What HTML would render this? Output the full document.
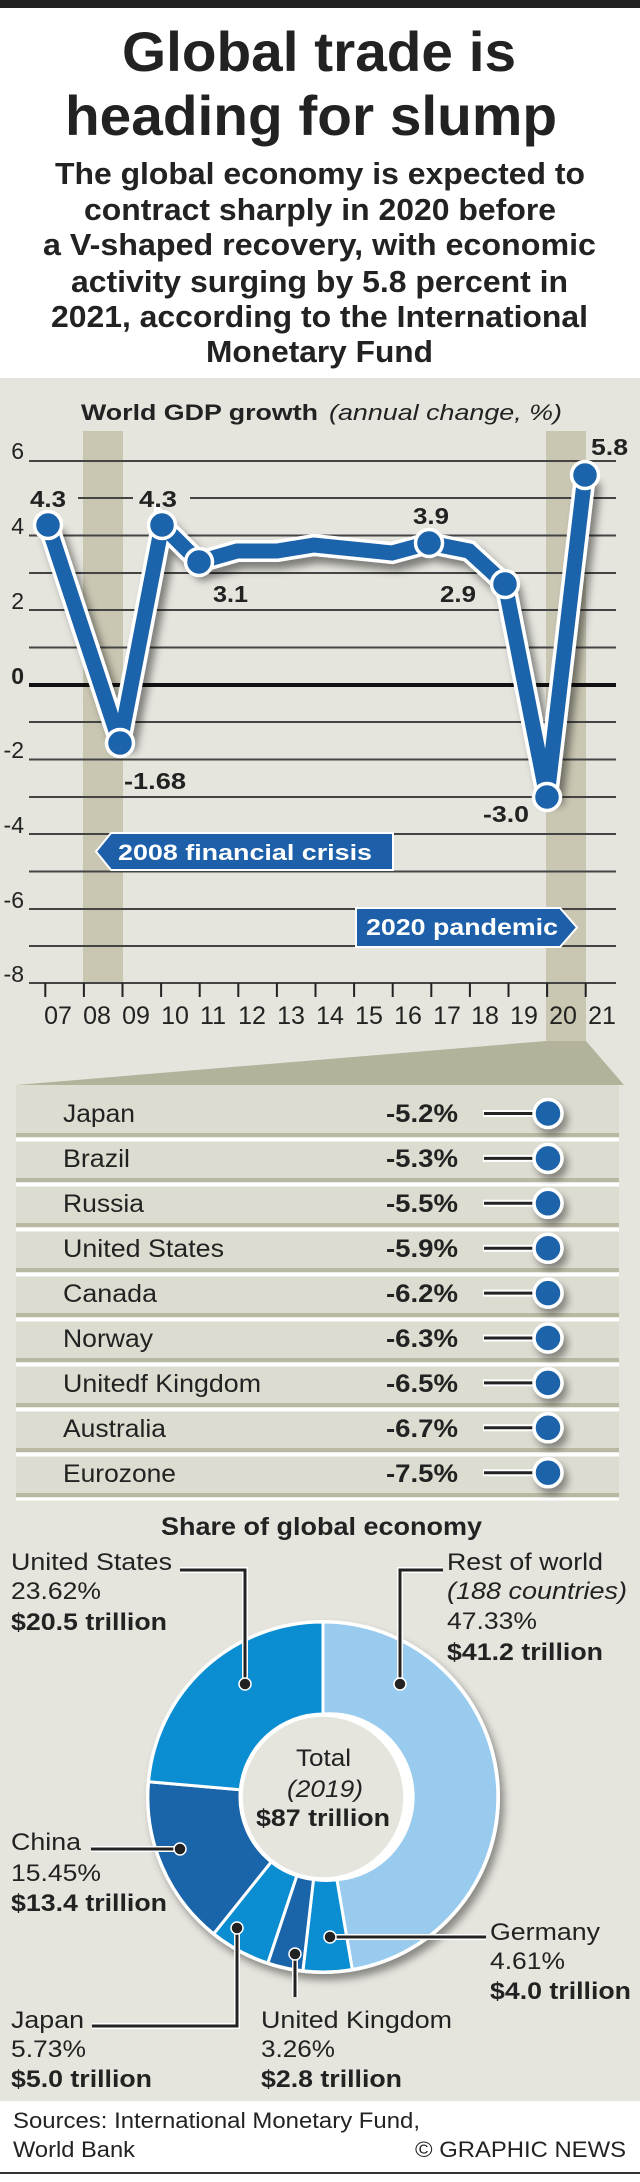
<!DOCTYPE html>
<html><head><meta charset="utf-8"><style>
html,body{margin:0;padding:0;background:#fff}
svg{display:block}
text{font-family:"Liberation Sans",Arial,sans-serif;fill:#222}
.b{font-weight:bold}
</style></head><body>
<svg width="640" height="2182" viewBox="0 0 640 2182" xmlns="http://www.w3.org/2000/svg">
<defs>
<filter id="sh" x="-20%" y="-20%" width="150%" height="150%">
<feDropShadow dx="5" dy="7" stdDeviation="4" flood-color="#000" flood-opacity="0.45"/>
</filter>
<filter id="sh2" x="-30%" y="-30%" width="170%" height="170%">
<feDropShadow dx="4" dy="6" stdDeviation="4" flood-color="#000" flood-opacity="0.4"/>
</filter>
</defs>
<rect x="0" y="0" width="640" height="2182" fill="#fff"/>
<rect x="0" y="0" width="640" height="8" fill="#222"/>
<!-- Title -->
<g class="b" text-anchor="start">
<text x="122" y="71" font-size="56" font-weight="bold" textLength="394" lengthAdjust="spacingAndGlyphs">Global trade is</text>
<text x="65" y="135" font-size="56" font-weight="bold" textLength="492" lengthAdjust="spacingAndGlyphs">heading for slump</text>
<text x="55" y="184" font-size="31" font-weight="bold" textLength="530" lengthAdjust="spacingAndGlyphs">The global economy is expected to</text>
<text x="84" y="220" font-size="31" font-weight="bold" textLength="472" lengthAdjust="spacingAndGlyphs">contract sharply in 2020 before</text>
<text x="43" y="255" font-size="31" font-weight="bold" textLength="553" lengthAdjust="spacingAndGlyphs">a V-shaped recovery, with economic</text>
<text x="71" y="292" font-size="31" font-weight="bold" textLength="497" lengthAdjust="spacingAndGlyphs">activity surging by 5.8 percent in</text>
<text x="51" y="327" font-size="31" font-weight="bold" textLength="537" lengthAdjust="spacingAndGlyphs">2021, according to the International</text>
<text x="206" y="362" font-size="31" font-weight="bold" textLength="227" lengthAdjust="spacingAndGlyphs">Monetary Fund</text>
</g>
<!-- Gray panel -->
<rect x="0" y="378" width="640" height="1723" fill="#e5e4dd"/>
<text x="81" y="420" font-size="22" font-weight="bold" textLength="237" lengthAdjust="spacingAndGlyphs">World GDP growth</text>
<text x="329" y="420" font-size="22" font-style="italic" textLength="233" lengthAdjust="spacingAndGlyphs">(annual change, %)</text>
<!-- bands -->
<rect x="83" y="431" width="40" height="552" fill="#c9c6b2"/>
<rect x="546" y="431" width="40" height="612" fill="#c9c6b2"/>
<!-- gridlines -->
<g stroke="#444" stroke-width="2">
<line x1="29" y1="461" x2="616" y2="461"/>
<line x1="29" y1="498" x2="616" y2="498"/>
<line x1="29" y1="535.5" x2="616" y2="535.5"/>
<line x1="29" y1="573" x2="616" y2="573"/>
<line x1="29" y1="610" x2="616" y2="610"/>
<line x1="29" y1="647.5" x2="616" y2="647.5"/>
<line x1="29" y1="722" x2="616" y2="722"/>
<line x1="29" y1="759.5" x2="616" y2="759.5"/>
<line x1="29" y1="797" x2="616" y2="797"/>
<line x1="29" y1="834" x2="616" y2="834"/>
<line x1="29" y1="871.5" x2="616" y2="871.5"/>
<line x1="29" y1="909" x2="616" y2="909"/>
<line x1="29" y1="946" x2="616" y2="946"/>
<line x1="29" y1="983" x2="616" y2="983"/>
</g>
<line x1="29" y1="685" x2="616" y2="685" stroke="#111" stroke-width="4"/>
<!-- gaps behind 4.3 labels -->
<rect x="29" y="490" width="49" height="16" fill="#e5e4dd"/>
<rect x="133" y="490" width="57" height="16" fill="#e5e4dd"/>
<!-- ticks -->
<g stroke="#222" stroke-width="2">
<line x1="45.3" y1="983" x2="45.3" y2="997"/><line x1="83.9" y1="983" x2="83.9" y2="997"/><line x1="122.5" y1="983" x2="122.5" y2="997"/><line x1="161.1" y1="983" x2="161.1" y2="997"/><line x1="199.7" y1="983" x2="199.7" y2="997"/><line x1="238.3" y1="983" x2="238.3" y2="997"/><line x1="276.9" y1="983" x2="276.9" y2="997"/><line x1="315.5" y1="983" x2="315.5" y2="997"/><line x1="354.1" y1="983" x2="354.1" y2="997"/><line x1="392.7" y1="983" x2="392.7" y2="997"/><line x1="431.3" y1="983" x2="431.3" y2="997"/><line x1="469.9" y1="983" x2="469.9" y2="997"/><line x1="508.5" y1="983" x2="508.5" y2="997"/><line x1="547.1" y1="983" x2="547.1" y2="997"/><line x1="585.7" y1="983" x2="585.7" y2="997"/>
</g>
<!-- y labels -->
<g font-size="23" text-anchor="end">
<text x="24" y="459">6</text><text x="24" y="534">4</text><text x="24" y="609">2</text>
<text x="24" y="684" font-weight="bold">0</text><text x="24" y="758">-2</text><text x="24" y="833">-4</text>
<text x="24" y="908">-6</text><text x="24" y="982">-8</text>
</g>
<!-- x labels -->
<g font-size="25" text-anchor="middle">
<text x="58" y="1024">07</text><text x="97" y="1024">08</text><text x="136" y="1024">09</text><text x="175" y="1024">10</text><text x="213" y="1024">11</text><text x="252" y="1024">12</text><text x="291" y="1024">13</text><text x="330" y="1024">14</text><text x="369" y="1024">15</text><text x="408" y="1024">16</text><text x="447" y="1024">17</text><text x="485" y="1024">18</text><text x="524" y="1024">19</text><text x="563" y="1024">20</text><text x="602" y="1024">21</text>
</g>
<!-- series -->
<g filter="url(#sh)">
<polyline points="48,525 120,743 162,525 199,562 237,551 277,551 314,545 392,553 429,543 469,551 505,584 547,797 585,475" fill="none" stroke="#fff" stroke-width="22" stroke-linejoin="miter" stroke-miterlimit="3"/>
</g>
<polyline points="48,525 120,743 162,525 199,562 237,551 277,551 314,545 392,553 429,543 469,551 505,584 547,797 585,475" fill="none" stroke="#1b63aa" stroke-width="15" stroke-linejoin="miter" stroke-miterlimit="3"/>
<g fill="#1b63aa" stroke="#fff" stroke-width="3.5">
<circle cx="48" cy="525" r="13.5"/><circle cx="120" cy="743" r="13.5"/><circle cx="162" cy="525" r="13.5"/><circle cx="199" cy="562" r="13.5"/><circle cx="429" cy="543" r="13.5"/><circle cx="505" cy="584" r="13.5"/><circle cx="547" cy="797" r="13.5"/><circle cx="585" cy="475" r="13.5"/>
</g>
<g font-size="23" font-weight="bold">
<text x="30" y="507" textLength="36" lengthAdjust="spacingAndGlyphs">4.3</text>
<text x="139" y="507" textLength="38" lengthAdjust="spacingAndGlyphs">4.3</text>
<text x="213" y="602" textLength="35" lengthAdjust="spacingAndGlyphs">3.1</text>
<text x="124" y="789" textLength="62" lengthAdjust="spacingAndGlyphs">-1.68</text>
<text x="413" y="524" textLength="36" lengthAdjust="spacingAndGlyphs">3.9</text>
<text x="440" y="602" textLength="36" lengthAdjust="spacingAndGlyphs">2.9</text>
<text x="483" y="822" textLength="46" lengthAdjust="spacingAndGlyphs">-3.0</text>
<text x="591" y="455" textLength="37" lengthAdjust="spacingAndGlyphs">5.8</text>
</g>
<!-- annotations -->
<polygon points="96,851.5 111,833 393,833 393,870 111,870" fill="#1d5fa8" stroke="#fff" stroke-width="2"/>
<text x="118" y="860" font-size="22" font-weight="bold" style="fill:#fff" textLength="254" lengthAdjust="spacingAndGlyphs">2008 financial crisis</text>
<polygon points="356,908 560,908 577,927.5 560,947 356,947" fill="#1d5fa8" stroke="#fff" stroke-width="2"/>
<text x="366" y="935" font-size="23" font-weight="bold" style="fill:#fff" textLength="192" lengthAdjust="spacingAndGlyphs">2020 pandemic</text>
<!-- funnel -->
<polygon points="546,1041 586,1041 624,1085 16,1085" fill="#b3b29a"/>
<rect x="16" y="1085" width="603" height="415" fill="#dddcd1"/>
<g>
<rect x="16" y="1133" width="603" height="4" fill="#b9b8a3"/><rect x="16" y="1137.5" width="603" height="4" fill="#fff"/>
<rect x="16" y="1178" width="603" height="4" fill="#b9b8a3"/><rect x="16" y="1182.5" width="603" height="4" fill="#fff"/>
<rect x="16" y="1223" width="603" height="4" fill="#b9b8a3"/><rect x="16" y="1227.5" width="603" height="4" fill="#fff"/>
<rect x="16" y="1268" width="603" height="4" fill="#b9b8a3"/><rect x="16" y="1272.5" width="603" height="4" fill="#fff"/>
<rect x="16" y="1313" width="603" height="4" fill="#b9b8a3"/><rect x="16" y="1317.5" width="603" height="4" fill="#fff"/>
<rect x="16" y="1358" width="603" height="4" fill="#b9b8a3"/><rect x="16" y="1362.5" width="603" height="4" fill="#fff"/>
<rect x="16" y="1403" width="603" height="4" fill="#b9b8a3"/><rect x="16" y="1407.5" width="603" height="4" fill="#fff"/>
<rect x="16" y="1448" width="603" height="4" fill="#b9b8a3"/><rect x="16" y="1452.5" width="603" height="4" fill="#fff"/>
<rect x="16" y="1493" width="603" height="4" fill="#b9b8a3"/><rect x="16" y="1497.5" width="603" height="3" fill="#fff"/>
</g>
<g font-size="25">
<text x="63" y="1122" textLength="72" lengthAdjust="spacingAndGlyphs">Japan</text>
<text x="63" y="1167" textLength="67" lengthAdjust="spacingAndGlyphs">Brazil</text>
<text x="63" y="1212" textLength="81" lengthAdjust="spacingAndGlyphs">Russia</text>
<text x="63" y="1257" textLength="161" lengthAdjust="spacingAndGlyphs">United States</text>
<text x="63" y="1302" textLength="94" lengthAdjust="spacingAndGlyphs">Canada</text>
<text x="63" y="1347" textLength="90" lengthAdjust="spacingAndGlyphs">Norway</text>
<text x="63" y="1392" textLength="198" lengthAdjust="spacingAndGlyphs">Unitedf Kingdom</text>
<text x="63" y="1437" textLength="103" lengthAdjust="spacingAndGlyphs">Australia</text>
<text x="63" y="1482" textLength="113" lengthAdjust="spacingAndGlyphs">Eurozone</text>
</g>
<g font-size="25" font-weight="bold">
<text x="386" y="1122" textLength="72" lengthAdjust="spacingAndGlyphs">-5.2%</text>
<text x="386" y="1167" textLength="72" lengthAdjust="spacingAndGlyphs">-5.3%</text>
<text x="386" y="1212" textLength="72" lengthAdjust="spacingAndGlyphs">-5.5%</text>
<text x="386" y="1257" textLength="72" lengthAdjust="spacingAndGlyphs">-5.9%</text>
<text x="386" y="1302" textLength="72" lengthAdjust="spacingAndGlyphs">-6.2%</text>
<text x="386" y="1347" textLength="72" lengthAdjust="spacingAndGlyphs">-6.3%</text>
<text x="386" y="1392" textLength="72" lengthAdjust="spacingAndGlyphs">-6.5%</text>
<text x="386" y="1437" textLength="72" lengthAdjust="spacingAndGlyphs">-6.7%</text>
<text x="386" y="1482" textLength="72" lengthAdjust="spacingAndGlyphs">-7.5%</text>
</g>
<g id="dots">
<g transform="translate(0,1113.5)"><line x1="483" y1="0" x2="540" y2="0" stroke="#fff" stroke-width="7"/><line x1="484" y1="0" x2="540" y2="0" stroke="#222" stroke-width="3"/><circle cx="548" cy="0" r="14" fill="#1b63aa" stroke="#fff" stroke-width="3.5" filter="url(#sh2)"/></g>
<g transform="translate(0,1158.4)"><line x1="483" y1="0" x2="540" y2="0" stroke="#fff" stroke-width="7"/><line x1="484" y1="0" x2="540" y2="0" stroke="#222" stroke-width="3"/><circle cx="548" cy="0" r="14" fill="#1b63aa" stroke="#fff" stroke-width="3.5" filter="url(#sh2)"/></g>
<g transform="translate(0,1203.3)"><line x1="483" y1="0" x2="540" y2="0" stroke="#fff" stroke-width="7"/><line x1="484" y1="0" x2="540" y2="0" stroke="#222" stroke-width="3"/><circle cx="548" cy="0" r="14" fill="#1b63aa" stroke="#fff" stroke-width="3.5" filter="url(#sh2)"/></g>
<g transform="translate(0,1248.2)"><line x1="483" y1="0" x2="540" y2="0" stroke="#fff" stroke-width="7"/><line x1="484" y1="0" x2="540" y2="0" stroke="#222" stroke-width="3"/><circle cx="548" cy="0" r="14" fill="#1b63aa" stroke="#fff" stroke-width="3.5" filter="url(#sh2)"/></g>
<g transform="translate(0,1293.1)"><line x1="483" y1="0" x2="540" y2="0" stroke="#fff" stroke-width="7"/><line x1="484" y1="0" x2="540" y2="0" stroke="#222" stroke-width="3"/><circle cx="548" cy="0" r="14" fill="#1b63aa" stroke="#fff" stroke-width="3.5" filter="url(#sh2)"/></g>
<g transform="translate(0,1338)"><line x1="483" y1="0" x2="540" y2="0" stroke="#fff" stroke-width="7"/><line x1="484" y1="0" x2="540" y2="0" stroke="#222" stroke-width="3"/><circle cx="548" cy="0" r="14" fill="#1b63aa" stroke="#fff" stroke-width="3.5" filter="url(#sh2)"/></g>
<g transform="translate(0,1382.9)"><line x1="483" y1="0" x2="540" y2="0" stroke="#fff" stroke-width="7"/><line x1="484" y1="0" x2="540" y2="0" stroke="#222" stroke-width="3"/><circle cx="548" cy="0" r="14" fill="#1b63aa" stroke="#fff" stroke-width="3.5" filter="url(#sh2)"/></g>
<g transform="translate(0,1427.8)"><line x1="483" y1="0" x2="540" y2="0" stroke="#fff" stroke-width="7"/><line x1="484" y1="0" x2="540" y2="0" stroke="#222" stroke-width="3"/><circle cx="548" cy="0" r="14" fill="#1b63aa" stroke="#fff" stroke-width="3.5" filter="url(#sh2)"/></g>
<g transform="translate(0,1472.7)"><line x1="483" y1="0" x2="540" y2="0" stroke="#fff" stroke-width="7"/><line x1="484" y1="0" x2="540" y2="0" stroke="#222" stroke-width="3"/><circle cx="548" cy="0" r="14" fill="#1b63aa" stroke="#fff" stroke-width="3.5" filter="url(#sh2)"/></g>
</g>
<!-- Share of global economy -->
<text x="161" y="1535" font-size="25" font-weight="bold" textLength="321" lengthAdjust="spacingAndGlyphs">Share of global economy</text>
<!-- donut: center 323,1797 R 175 r 83 -->
<g stroke="#fff" stroke-width="3" stroke-linejoin="round">
<circle cx="323" cy="1797" r="177" fill="#fff" filter="url(#sh2)" stroke="none"/>
<path d="M323,1622 A175,175 0 0 1 352.3,1969.5 L336.9,1879.8 A83,83 0 0 0 323,1714 Z" fill="#99cbef"/>
<path d="M352.3,1969.5 A175,175 0 0 1 302.9,1970.8 L313.5,1879.5 A83,83 0 0 0 336.9,1879.8 Z" fill="#0b8dd2"/>
<path d="M302.9,1970.8 A175,175 0 0 1 267.8,1963.1 L296.8,1875.8 A83,83 0 0 0 313.5,1879.5 Z" fill="#1a64aa"/>
<path d="M267.8,1963.1 A175,175 0 0 1 213.7,1933.8 L271.2,1861.9 A83,83 0 0 0 296.8,1875.8 Z" fill="#0b8dd2"/>
<path d="M213.7,1933.8 A175,175 0 0 1 148.6,1781.7 L240.3,1789.8 A83,83 0 0 0 271.2,1861.9 Z" fill="#1a64aa"/>
<path d="M148.6,1781.7 A175,175 0 0 1 323,1622 L323,1714 A83,83 0 0 0 240.3,1789.8 Z" fill="#0b8dd2"/>
</g>
<circle cx="323" cy="1797" r="82" fill="#e5e4dd" stroke="#fff" stroke-width="3.5"/>
<text x="296" y="1766" font-size="24" textLength="55" lengthAdjust="spacingAndGlyphs">Total</text>
<text x="287" y="1797" font-size="24" font-style="italic" textLength="76" lengthAdjust="spacingAndGlyphs">(2019)</text>
<text x="256" y="1826" font-size="24" font-weight="bold" textLength="134" lengthAdjust="spacingAndGlyphs">$87 trillion</text>
<!-- callouts -->
<g fill="none" stroke-linejoin="miter">
<polyline points="180,1570 245,1570 245,1684" stroke="#fff" stroke-width="6"/>
<polyline points="180,1570 245,1570 245,1684" stroke="#222" stroke-width="3"/>
<polyline points="443,1570 400,1570 400,1684" stroke="#fff" stroke-width="6"/>
<polyline points="443,1570 400,1570 400,1684" stroke="#222" stroke-width="3"/>
<polyline points="91,1849 180,1849" stroke="#fff" stroke-width="6"/>
<polyline points="91,1849 180,1849" stroke="#222" stroke-width="3"/>
<polyline points="92,2026 237,2026 237,1928" stroke="#fff" stroke-width="6"/>
<polyline points="92,2026 237,2026 237,1928" stroke="#222" stroke-width="3"/>
<polyline points="295,1997 295,1954" stroke="#fff" stroke-width="6"/>
<polyline points="295,1997 295,1954" stroke="#222" stroke-width="3"/>
<polyline points="486,1937 330,1937" stroke="#fff" stroke-width="6"/>
<polyline points="486,1937 330,1937" stroke="#222" stroke-width="3"/>
</g>
<g fill="#222" stroke="#fff" stroke-width="1.5">
<circle cx="245" cy="1684" r="6"/><circle cx="400" cy="1684" r="6"/><circle cx="180" cy="1849" r="6"/><circle cx="237" cy="1928" r="6"/><circle cx="295" cy="1954" r="6"/><circle cx="330" cy="1937" r="6"/>
</g>
<g font-size="24">
<text x="11" y="1570" textLength="161" lengthAdjust="spacingAndGlyphs">United States</text>
<text x="11" y="1599" textLength="90" lengthAdjust="spacingAndGlyphs">23.62%</text>
<text x="11" y="1630" font-weight="bold" textLength="156" lengthAdjust="spacingAndGlyphs">$20.5 trillion</text>
<text x="447" y="1570" textLength="156" lengthAdjust="spacingAndGlyphs">Rest of world</text>
<text x="447" y="1599" font-style="italic" textLength="180" lengthAdjust="spacingAndGlyphs">(188 countries)</text>
<text x="447" y="1629" textLength="90" lengthAdjust="spacingAndGlyphs">47.33%</text>
<text x="447" y="1660" font-weight="bold" textLength="156" lengthAdjust="spacingAndGlyphs">$41.2 trillion</text>
<text x="11" y="1850" textLength="70" lengthAdjust="spacingAndGlyphs">China</text>
<text x="11" y="1881" textLength="90" lengthAdjust="spacingAndGlyphs">15.45%</text>
<text x="11" y="1911" font-weight="bold" textLength="156" lengthAdjust="spacingAndGlyphs">$13.4 trillion</text>
<text x="11" y="2028" textLength="73" lengthAdjust="spacingAndGlyphs">Japan</text>
<text x="11" y="2057" textLength="75" lengthAdjust="spacingAndGlyphs">5.73%</text>
<text x="11" y="2087" font-weight="bold" textLength="141" lengthAdjust="spacingAndGlyphs">$5.0 trillion</text>
<text x="261" y="2028" textLength="191" lengthAdjust="spacingAndGlyphs">United Kingdom</text>
<text x="261" y="2057" textLength="74" lengthAdjust="spacingAndGlyphs">3.26%</text>
<text x="261" y="2087" font-weight="bold" textLength="141" lengthAdjust="spacingAndGlyphs">$2.8 trillion</text>
<text x="490" y="1940" textLength="110" lengthAdjust="spacingAndGlyphs">Germany</text>
<text x="490" y="1969" textLength="75" lengthAdjust="spacingAndGlyphs">4.61%</text>
<text x="490" y="1999" font-weight="bold" textLength="141" lengthAdjust="spacingAndGlyphs">$4.0 trillion</text>
</g>
<!-- footer -->
<rect x="0" y="2101" width="640" height="81" fill="#fff"/>
<text x="13" y="2128" font-size="22" textLength="407" lengthAdjust="spacingAndGlyphs">Sources: International Monetary Fund,</text>
<text x="13" y="2157" font-size="22" textLength="122" lengthAdjust="spacingAndGlyphs">World Bank</text>
<text x="415" y="2157" font-size="22" textLength="211" lengthAdjust="spacingAndGlyphs">© GRAPHIC NEWS</text>
<rect x="0" y="2172" width="640" height="2" fill="#333"/>
</svg>
</body></html>
